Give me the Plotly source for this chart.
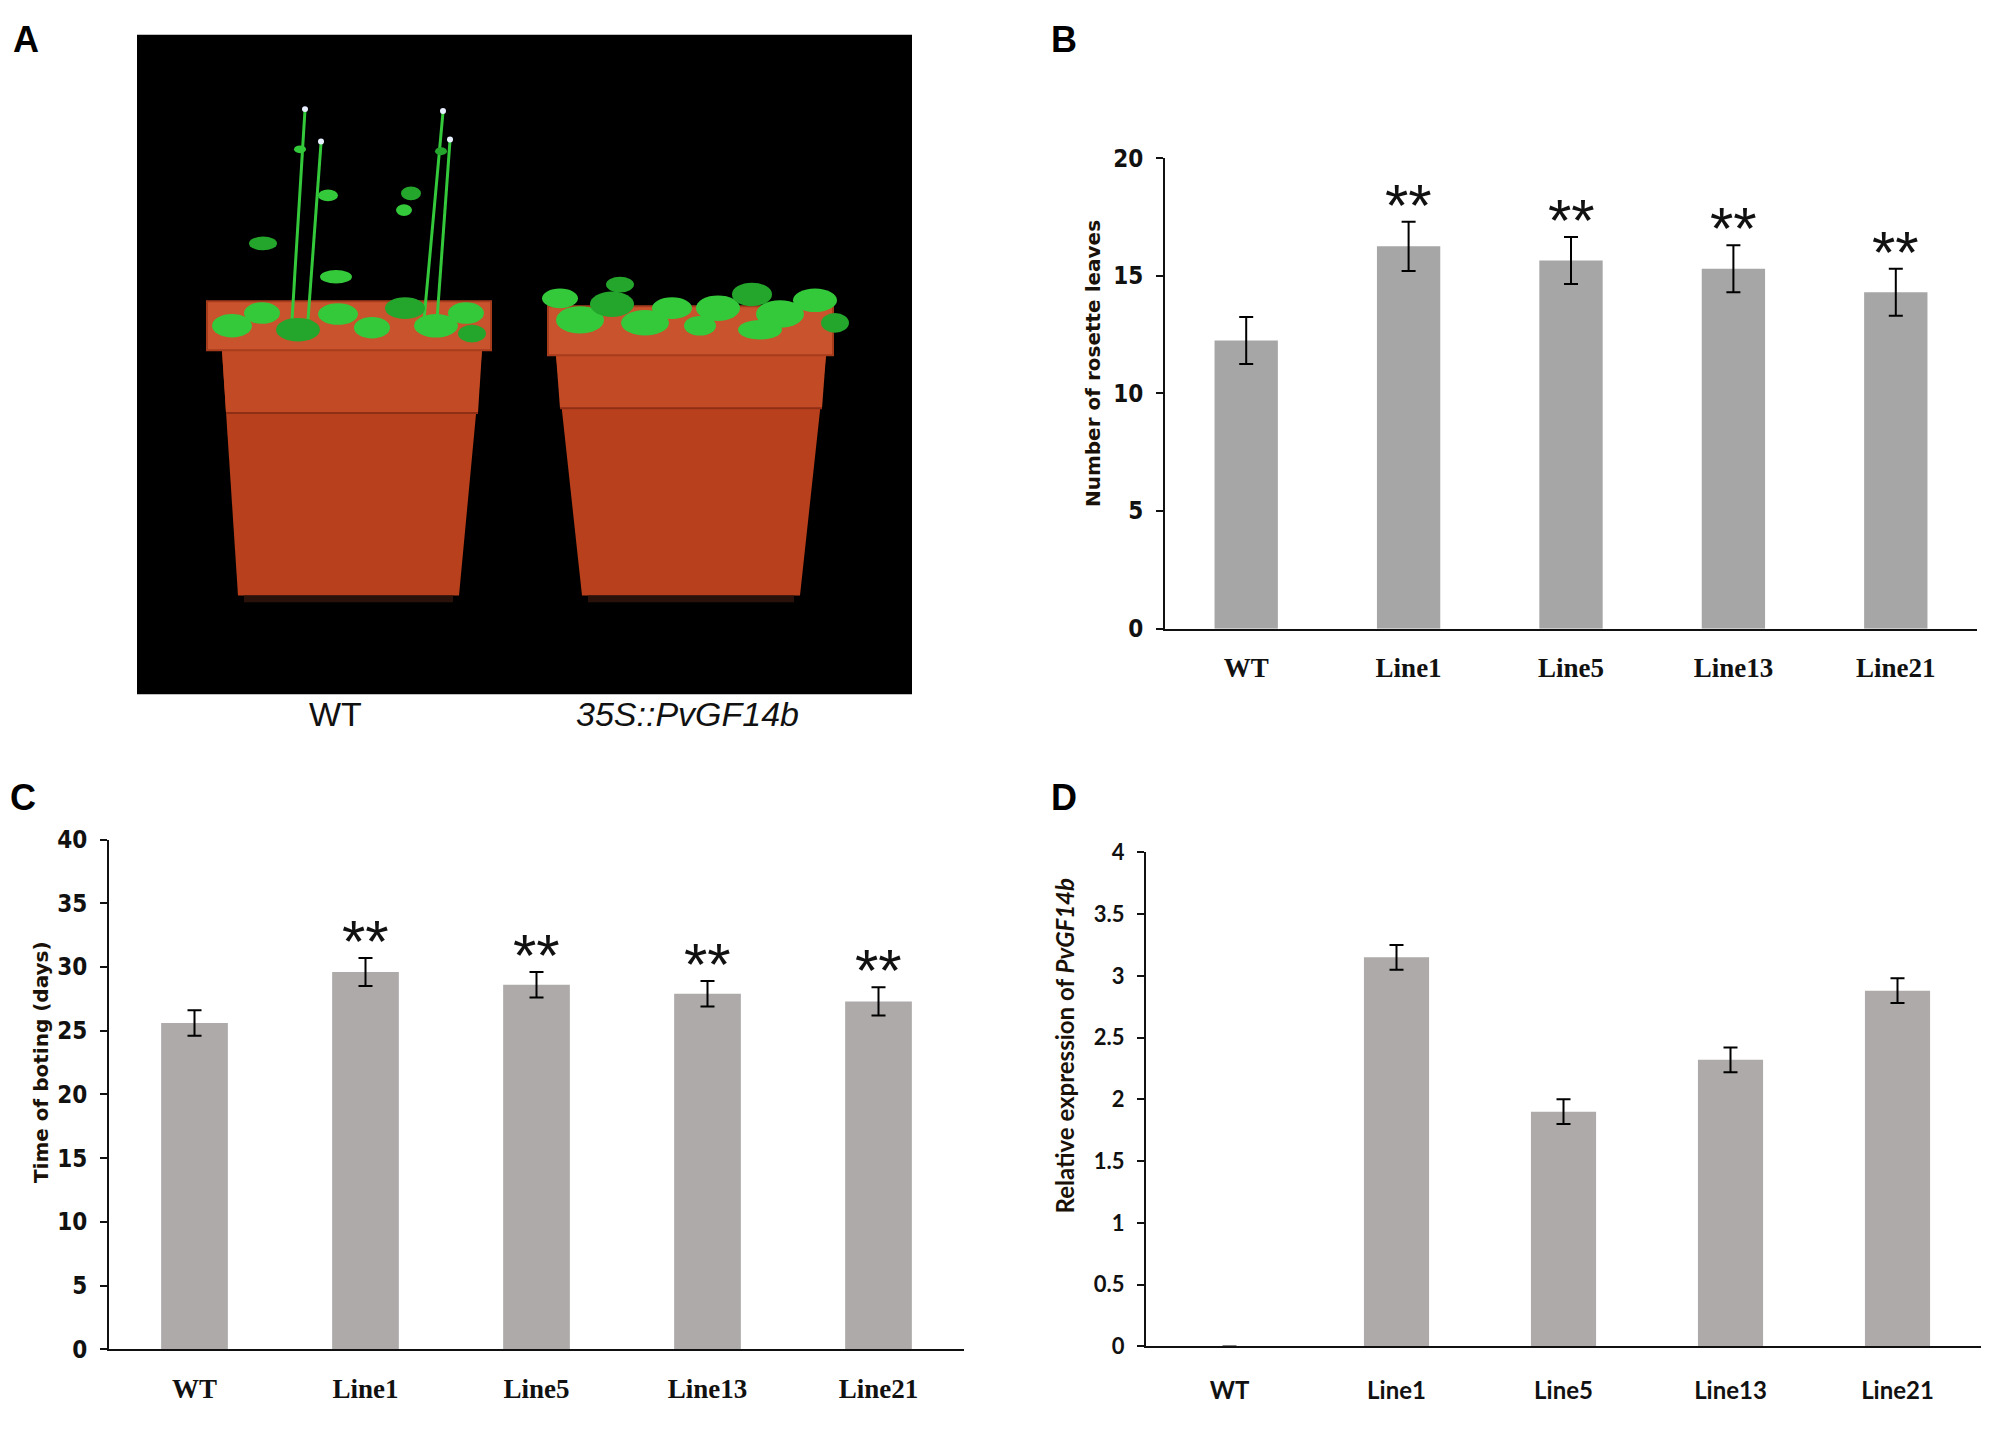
import plotly.graph_objects as go

# data
lines = ["WT", "Line1", "Line5", "Line13", "Line21"]

rosette_mean = [12.25, 16.25, 15.65, 15.3, 14.3]
rosette_err = [1.0, 1.05, 1.0, 1.0, 1.0]
rosette_sig = ["", "**", "**", "**", "**"]

bolting_mean = [25.6, 29.6, 28.6, 27.9, 27.3]
bolting_err = [1.0, 1.1, 1.0, 1.0, 1.1]
bolting_sig = ["", "**", "**", "**", "**"]

expr_mean = [0, 3.15, 1.9, 2.32, 2.88]
expr_err = [0, 0.1, 0.1, 0.1, 0.1]

photo_labels = ["WT", "<i>35S::PvGF14b</i>"]

W, H = 2000, 1431
TICK_FONT = dict(family="DejaVu Sans Condensed, Liberation Sans Narrow, sans-serif", size=24,
                 color="#111", weight="bold")
CAT_FONT = dict(family="Liberation Serif, serif", size=27, color="#111", weight="bold")
TITLE_FONT = dict(family="DejaVu Sans, sans-serif", size=20, color="#1a1208", weight="bold")
D_TICK = dict(family="Lato, sans-serif", size=22, color="#111", weight="bold")
D_CAT = dict(family="Lato, sans-serif", size=24, color="#111", weight="bold")

fig = go.Figure()


def add_bars(means, errs, xa, ya, color):
    fig.add_trace(go.Bar(
        x=lines, y=means, xaxis=xa, yaxis=ya, width=0.39,
        marker=dict(color=color, line=dict(width=0)),
        error_y=dict(type="data", array=errs, color="black", thickness=2, width=7),
        showlegend=False))


add_bars(rosette_mean, rosette_err, "x", "y", "#a6a6a6")
add_bars(bolting_mean, bolting_err, "x2", "y2", "#adaaa9")
add_bars(expr_mean, expr_err, "x3", "y3", "#adaaa9")

ann = []
# significance stars
for means, errs, sig, xr, yr in [(rosette_mean, rosette_err, rosette_sig, "x", "y"),
                                 (bolting_mean, bolting_err, bolting_sig, "x2", "y2")]:
    for c, m, e, s in zip(lines, means, errs, sig):
        if s:
            ann.append(dict(x=c, y=m + e, xref=xr, yref=yr, text=s, showarrow=False,
                            yanchor="bottom", yshift=-19,
                            font=dict(family="Liberation Sans, Arial", size=60, color="#111")))


def label(text, px, py, font, angle=0):
    ann.append(dict(x=px / W, y=1 - py / H, xref="paper", yref="paper", text=text, showarrow=False,
                    xanchor="center", yanchor="middle", textangle=angle, font=font))


# axis titles
label("Number of rosette leaves", 1093, 357, TITLE_FONT, -90)
label("Time of boting (days)", 41, 1069, TITLE_FONT, -90)
label("Relative expression of <i>PvGF14b</i>", 1064, 1053,
      dict(family="Lato, sans-serif", size=24, color="#1a1208", weight="bold"), -90)

# panel letters
for letter, px, py in [("A", 26, 26), ("B", 1064, 26), ("C", 23, 799), ("D", 1064, 799)]:
    label(letter, px, py, dict(family="Liberation Sans, Arial", size=36, color="black", weight="bold"))

# photo captions
for lab, px in zip(photo_labels, [335, 687]):
    label(lab, px, 714, dict(family="Liberation Sans, Arial", size=34, color="#111"))

# panel A: drawn stand-in for the photograph
shapes = []
P = dict(xref="x4", yref="y4")
shapes.append(dict(type="rect", x0=137, x1=912, y0=21, y1=694, fillcolor="black", line=dict(width=0), **P))


def pot(rx0, rx1, ry0, ry1, bx0, bx1, btx0, btx1, band):
    shapes.append(dict(type="path", path=f"M {bx0},{ry1} L {bx1},{ry1} L {btx1},593 L {btx0},593 Z",
                       fillcolor="#b9401d", line=dict(width=0), **P))
    shapes.append(dict(type="path", path=f"M {bx0},{ry1} L {bx1},{ry1} L {bx1 - 4},{band} L {bx0 + 4},{band} Z",
                       fillcolor="#c24a24", line=dict(width=0), **P))
    shapes.append(dict(type="line", x0=bx0 + 4, x1=bx1 - 4, y0=band, y1=band,
                       line=dict(color="#8e2e14", width=2), **P))
    shapes.append(dict(type="rect", x0=rx0, x1=rx1, y0=ry0, y1=ry1, fillcolor="#c8532c",
                       line=dict(color="#a63c1c", width=2), **P))
    shapes.append(dict(type="rect", x0=btx0 + 6, x1=btx1 - 6, y0=593, y1=600, fillcolor="#2a120a",
                       line=dict(width=0), **P))


pot(207, 491, 293, 343, 222, 482, 238, 459, 407)
pot(548, 833, 298, 348, 556, 826, 582, 800, 402)

green = "#34c93a"
dark_green = "#24a52c"
# stems of the bolting WT plants
for x0, y0, x1, y1 in [(292, 312, 305, 98), (308, 312, 321, 132), (424, 312, 443, 100), (437, 312, 450, 129)]:
    shapes.append(dict(type="line", x0=x0, y0=y0, x1=x1, y1=y1, line=dict(color=green, width=3), **P))
# leaves as ellipses (cx, cy, rx, ry)
leaves = [(263, 234, 14, 7), (328, 185, 10, 6), (336, 268, 16, 7), (411, 183, 10, 7), (404, 200, 8, 6),
          (300, 138, 6, 4), (441, 140, 6, 4),
          (232, 318, 20, 12), (262, 305, 18, 11), (298, 322, 22, 12), (338, 306, 20, 11),
          (372, 320, 18, 11), (405, 300, 20, 11), (436, 318, 22, 12), (466, 305, 18, 11), (472, 326, 14, 9),
          (560, 290, 18, 10), (580, 312, 24, 14), (612, 296, 22, 13), (645, 315, 24, 13), (672, 300, 20, 11),
          (620, 276, 14, 8), (700, 318, 16, 10),
          (718, 300, 22, 13), (752, 286, 20, 12), (780, 306, 24, 14), (815, 292, 22, 12), (835, 315, 14, 10),
          (760, 322, 22, 10)]
for i, (cx, cy, rx, ry) in enumerate(leaves):
    shapes.append(dict(type="circle", x0=cx - rx, x1=cx + rx, y0=cy - ry, y1=cy + ry,
                       fillcolor=green if i % 3 else dark_green, line=dict(width=0), **P))
for cx, cy in [(305, 97), (321, 130), (443, 99), (450, 128)]:
    shapes.append(dict(type="circle", x0=cx - 3, x1=cx + 3, y0=cy - 3, y1=cy + 3,
                       fillcolor="#e8f0ff", line=dict(width=0), **P))

fig.add_trace(go.Scatter(x=[137, 912], y=[21, 694], xaxis="x4", yaxis="y4", mode="markers",
                         marker=dict(opacity=0), hoverinfo="skip", showlegend=False))


def xax(domain, standoff, font, anchor):
    return dict(domain=domain, range=[-0.5, 4.5], showline=True, linecolor="#111", linewidth=2,
                ticks="", showgrid=False, zeroline=False, tickfont=font, ticklabelstandoff=standoff,
                type="category", fixedrange=True, anchor=anchor)


def yax(domain, rng, dtick, anchor, font):
    return dict(domain=domain, range=rng, dtick=dtick, anchor=anchor, showline=True, linecolor="#111",
                linewidth=2, ticks="outside", ticklen=7, tickwidth=2, tickcolor="#111", showgrid=False,
                zeroline=False, tickfont=font, ticklabelstandoff=8, fixedrange=True)


fig.update_layout(
    width=W, height=H, margin=dict(l=0, r=0, t=0, b=0),
    paper_bgcolor="white", plot_bgcolor="white",
    xaxis=xax([1165 / W, 1977 / W], 14, CAT_FONT, "y"),
    yaxis=yax([1 - 627 / H, 1 - 147 / H], [0, 20], 5, "x", TICK_FONT),
    xaxis2=xax([109 / W, 964 / W], 14, CAT_FONT, "y2"),
    yaxis2=yax([1 - 1362 / H, 1 - 842 / H], [0, 40], 5, "x2", TICK_FONT),
    xaxis3=xax([1146 / W, 1981 / W], 22, D_CAT, "y3"),
    yaxis3=yax([1 - 1359 / H, 1 - 855 / H], [0, 4], 0.5, "x3", D_TICK),
    xaxis4=dict(domain=[137 / W, 912 / W], range=[137, 912], visible=False, anchor="y4", fixedrange=True),
    yaxis4=dict(domain=[1 - 694 / H, 1 - 21 / H], range=[694, 21], visible=False, anchor="x4", fixedrange=True),
    annotations=ann, shapes=shapes,
)

fig.write_html("out.html", config={"displayModeBar": False},
               post_script="document.body.style.margin='0';")
